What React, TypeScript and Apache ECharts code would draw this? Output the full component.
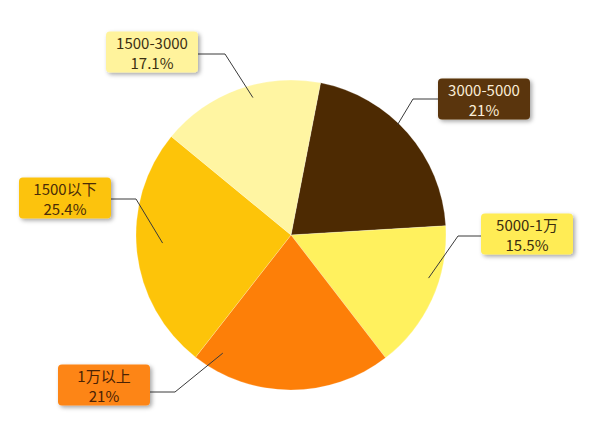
import React, { useEffect, useRef } from "react";
import * as echarts from "echarts";

const categories = ["3000-5000", "5000-1万", "1万以上", "1500以下", "1500-3000"];
const shares = [21, 15.5, 21, 25.4, 17.1];

const sliceColors = ["#4d2a02", "#fff15e", "#fd7f08", "#fdc409", "#fff5a2"];
const boxColors = ["#5a3409", "#ffec55", "#fd8513", "#fcc30e", "#fff39c"];
const textColors = ["#fbeed8", "#3b2c10", "#4a2205", "#4a2c08", "#3b2f12"];

// label placement (box centre, elbow of the guide line, anchor inside slice in polar terms)
const CX = 291;
const CY = 235;
const R = 155;
const labelPlaces = [
  { cx: 484, cy: 99, ex: 413, ey: 99, side: "left", ang: 44, rf: 0.99 },
  { cx: 527, cy: 234, ex: 458, ey: 236, side: "left", ang: 107.4, rf: 0.93 },
  { cx: 104, cy: 385, ex: 175, ey: 392, side: "right", ang: 210, rf: 0.88 },
  { cx: 65, cy: 198, ex: 136, ey: 199, side: "right", ang: 266.4, rf: 0.83 },
  { cx: 152, cy: 52, ex: 225, ey: 54, side: "right", ang: 344.5, rf: 0.92 },
];

export default function App() {
  const ref = useRef<HTMLDivElement>(null);
  useEffect(() => {
    document.body.style.margin = "0";
    const chart = echarts.init(ref.current!, undefined, { renderer: "svg" });
    const baseData = categories.map((name, i) => ({
      name,
      value: shares[i],
      itemStyle: { color: sliceColors[i] },
    }));
    const labelData = categories.map((name, i) => ({
      name,
      value: shares[i],
      label: { backgroundColor: boxColors[i], color: textColors[i] },
    }));
    const common = {
      type: "pie",
      center: [CX, CY],
      radius: R,
      startAngle: 79,
      clockwise: true,
      avoidLabelOverlap: false,
    };
    chart.setOption({
      animation: false,
      backgroundColor: "#ffffff",
      series: [
        {
          ...common,
          z: 2,
          data: baseData,
          silent: true,
          itemStyle: { borderColor: "rgba(255,255,255,0.35)", borderWidth: 0.6 },
          label: { show: false },
          labelLine: { show: false },
        },
        {
          ...common,
          z: 6,
          data: labelData,
          itemStyle: { color: "rgba(0,0,0,0)" },
          emphasis: { disabled: true },
          label: {
            show: true,
            position: "outside",
            formatter: "{b}\n{c}%",
            fontSize: 15,
            lineHeight: 20,
            width: 76,
            align: "center",
            fontFamily: '"Noto Sans CJK SC", "Noto Sans", sans-serif',
            padding: [1, 8, 0, 8],
            borderRadius: 4,
            shadowColor: "rgba(0,0,0,0.35)",
            shadowBlur: 4,
            shadowOffsetX: 2,
            shadowOffsetY: 2,
          },
          labelLine: {
            show: true,
            lineStyle: { color: "#3a3a3a", width: 1 },
          },
          labelLayout: (params: any) => {
            const p = labelPlaces[params.dataIndex];
            const w = params.labelRect.width;
            const a = (p.ang * Math.PI) / 180;
            const ax = CX + R * p.rf * Math.sin(a);
            const ay = CY - R * p.rf * Math.cos(a);
            const edgeX = p.side === "left" ? p.cx - w / 2 : p.cx + w / 2;
            return {
              x: p.cx,
              y: p.cy,
              align: "center",
              verticalAlign: "middle",
              labelLinePoints: [
                [ax, ay],
                [p.ex, p.ey],
                [edgeX, p.ey],
              ],
            };
          },
        },
      ],
    });
    return () => chart.dispose();
  }, []);
  return <div ref={ref} style={{ width: 615, height: 423 }} />;
}
